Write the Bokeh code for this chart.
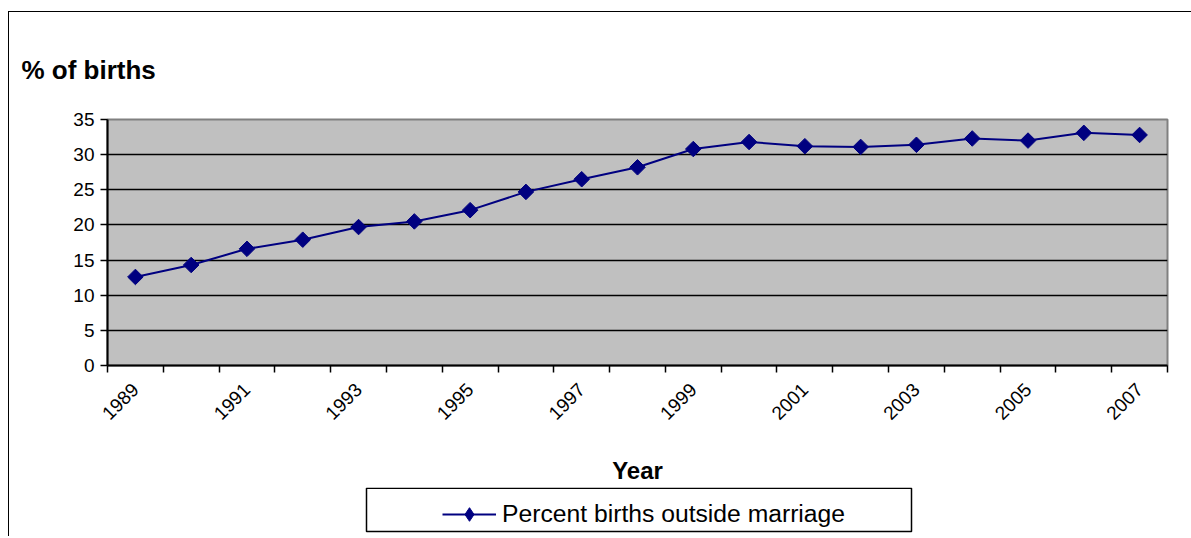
from bokeh.plotting import figure
from bokeh.layouts import column
from bokeh.models import (Range1d, FixedTicker, Legend, LegendItem,
                          ColumnDataSource, BoxAnnotation)
from bokeh.embed import file_html
from bokeh.resources import INLINE
import math

# ---- data ----
years = list(range(1989, 2008))
pct_outside = [12.6, 14.3, 16.6, 17.9, 19.7, 20.5, 22.1, 24.7, 26.5, 28.2,
               30.8, 31.8, 31.2, 31.1, 31.4, 32.3, 32.0, 33.1, 32.8]
label_years = years[::2]
y_ticks = [0, 5, 10, 15, 20, 25, 30, 35]
series_name = "Percent births outside marriage"
x_title = "Year"
y_title = "% of births"

FONT = "Liberation Sans"
NAVY = "#000080"

src = ColumnDataSource(dict(year=years, pct=pct_outside))

x0, x1 = years[0] - 0.5, years[-1] + 0.5
p = figure(width=1182, height=475, output_backend="svg", toolbar_location=None,
           x_range=Range1d(x0, x1), y_range=Range1d(0, 35),
           min_border_left=98, min_border_right=24, min_border_top=107,
           min_border_bottom=122)
p.background_fill_color = "#C0C0C0"
p.border_fill_color = "white"
p.outline_line_color = "#808080"
p.outline_line_width = 2

# title (y quantity)
p.title.text = y_title
p.title.align = "left"
p.title.offset = -86
p.title.standoff = 70
p.title.text_font = FONT
p.title.text_font_size = "26px"
p.title.text_font_style = "bold"
p.title.text_color = "black"

# x axis
p.xaxis.ticker = FixedTicker(ticks=label_years,
                             minor_ticks=[y - 0.5 for y in years] + [years[-1] + 0.5])
p.xaxis.major_tick_line_color = None
p.xaxis.major_tick_out = 0
p.xaxis.major_tick_in = 0
p.xaxis.minor_tick_line_color = "black"
p.xaxis.minor_tick_line_width = 1.5
p.xaxis.minor_tick_out = 7
p.xaxis.minor_tick_in = 0
p.xaxis.axis_line_color = "black"
p.xaxis.axis_line_width = 2
p.xaxis.major_label_orientation = math.pi / 4
p.xaxis.major_label_text_font = FONT
p.xaxis.major_label_text_font_size = "19px"
p.xaxis.major_label_text_color = "black"
p.xaxis.major_label_standoff = 14
p.xaxis.axis_label = x_title
p.xaxis.axis_label_text_font = FONT
p.xaxis.axis_label_text_font_size = "24px"
p.xaxis.axis_label_text_font_style = "bold"
p.xaxis.axis_label_text_color = "black"
p.xaxis.axis_label_standoff = 28

# y axis
p.yaxis.ticker = FixedTicker(ticks=y_ticks)
p.yaxis.minor_tick_line_color = None
p.yaxis.major_tick_out = 7
p.yaxis.major_tick_in = 0
p.yaxis.major_tick_line_color = "black"
p.yaxis.major_tick_line_width = 1.5
p.yaxis.axis_line_color = "black"
p.yaxis.axis_line_width = 2
p.yaxis.major_label_text_font = FONT
p.yaxis.major_label_text_font_size = "19px"
p.yaxis.major_label_text_color = "black"
p.yaxis.major_label_standoff = 6

p.xgrid.grid_line_color = None
p.ygrid.grid_line_color = "black"
p.ygrid.grid_line_width = 1.5

p.line("year", "pct", source=src, line_color=NAVY, line_width=2)
p.scatter("year", "pct", source=src, marker="square", angle=math.pi / 4,
          size=11, fill_color=NAVY, line_color=NAVY)

# ---- legend strip (own frame so the legend is not clipped) ----
q = figure(width=1182, height=49, output_backend="svg", toolbar_location=None,
           x_range=Range1d(98, 1158), y_range=Range1d(0, 49),
           x_axis_type=None, y_axis_type=None,
           min_border_left=98, min_border_right=24, min_border_top=0,
           min_border_bottom=0)
q.outline_line_color = None
q.background_fill_color = "white"
q.border_fill_color = "white"
q.xgrid.visible = False
q.ygrid.visible = False
# same series, lies outside this strip's view; used only for the legend glyph
leg_line = q.line("year", "pct", source=src, line_color=NAVY, line_width=2)
leg_mark = q.scatter("year", "pct", source=src, marker="diamond", size=14,
                     fill_color=NAVY, line_color=NAVY)
q.add_layout(BoxAnnotation(left=357, right=902, bottom=5, top=48.3,
                           fill_color="white", fill_alpha=1,
                           line_color="black", line_alpha=1, line_width=1.5))
legend = Legend(items=[LegendItem(label=series_name, renderers=[leg_line, leg_mark])],
                location=(335, 5), margin=0, padding=5, glyph_width=54,
                glyph_height=34, label_standoff=6, label_text_font=FONT,
                label_text_font_size="24.7px", label_text_color="black",
                border_line_color=None, background_fill_alpha=0)
q.add_layout(legend)

layout = column(p, q, spacing=0)
layout.styles = {"margin-left": "8px", "margin-top": "11px",
                 "border-left": "1px solid black", "border-top": "1px solid black"}

open("out.html", "w").write(file_html(layout, INLINE))
